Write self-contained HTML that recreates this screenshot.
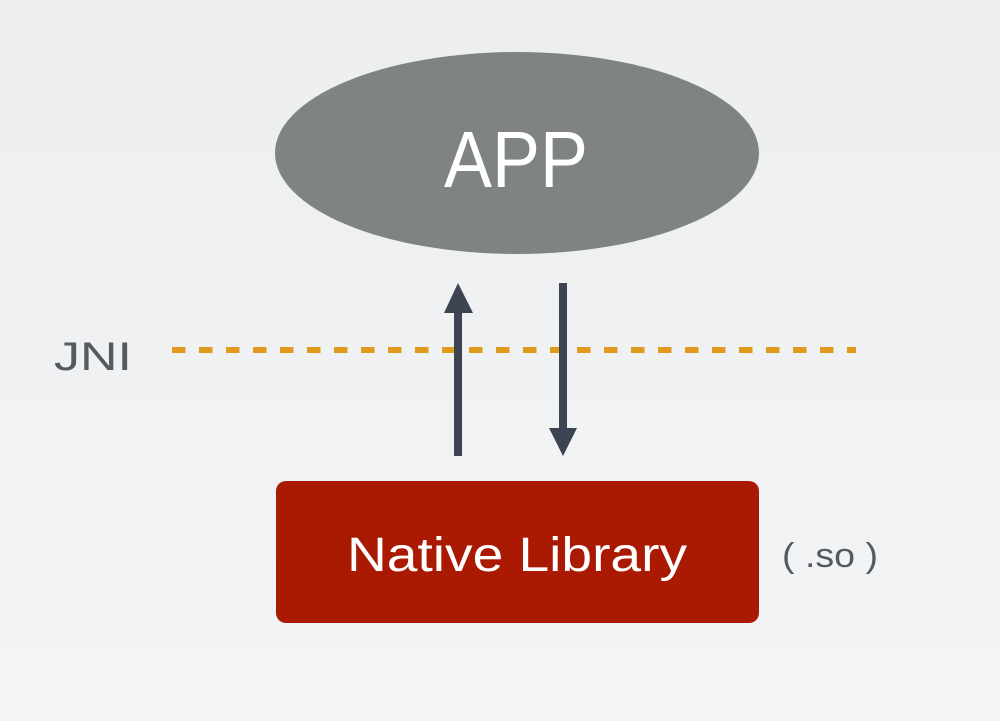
<!DOCTYPE html>
<html><head><style>
html,body{margin:0;padding:0;}
body{width:1000px;height:721px;background:linear-gradient(#eceef0,#f3f4f6);position:relative;overflow:hidden;font-family:"Liberation Sans",sans-serif;}
</style></head><body>
<svg width="1000" height="721" style="position:absolute;left:0;top:0">
<ellipse cx="517" cy="153" rx="242" ry="101" fill="#7f8481"/>
<text x="516" y="187" text-anchor="middle" fill="#fff" font-family="Liberation Sans, sans-serif" font-size="80" textLength="144" lengthAdjust="spacingAndGlyphs">APP</text>
<line x1="170" y1="350" x2="856" y2="350" stroke="#e09b1e" stroke-width="6" stroke-dasharray="13.5 13.5" stroke-dashoffset="-2"/>
<text x="54" y="370" fill="#555a5f" font-family="Liberation Sans, sans-serif" font-size="40" textLength="78" lengthAdjust="spacingAndGlyphs">JNI</text>
<rect x="454" y="310" width="8" height="146" fill="#3d4451"/>
<polygon points="458,283 444,313 473,313" fill="#3d4451"/>
<rect x="559" y="283" width="8" height="148" fill="#3d4451"/>
<polygon points="563,456 549,428 577,428" fill="#3d4451"/>
<rect x="276" y="481" width="483" height="142" rx="10" fill="#aa1a02"/>
<text x="347" y="571" fill="#fff" font-family="Liberation Sans, sans-serif" font-size="48" textLength="340" lengthAdjust="spacingAndGlyphs">Native Library</text>
<text x="782" y="567" fill="#555a5f" font-family="Liberation Sans, sans-serif" font-size="34" textLength="96" lengthAdjust="spacingAndGlyphs">( .so )</text>
</svg>
</body></html>
